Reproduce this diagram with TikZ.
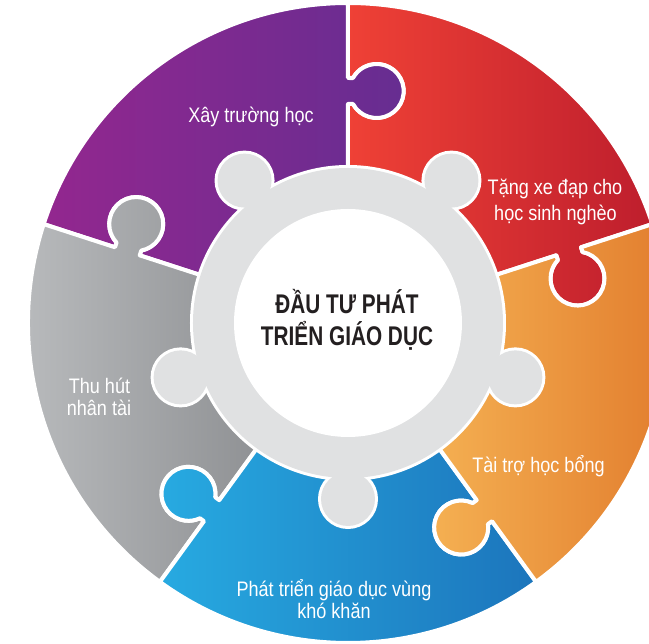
\documentclass[tikz,border=0pt]{standalone}
\usepackage{fontspec}
\newfontfamily\lblfont[FakeStretch=0.86]{Liberation Sans}
\newfontfamily\ttlfont[FakeStretch=0.77]{Liberation Sans}
\definecolor{redL}{HTML}{EF4136}
\definecolor{redR}{HTML}{BE1E2D}
\definecolor{purL}{HTML}{93278F}
\definecolor{purR}{HTML}{662D91}
\definecolor{gryL}{HTML}{BCBEC0}
\definecolor{gryR}{HTML}{808285}
\definecolor{bluL}{HTML}{27AAE1}
\definecolor{bluR}{HTML}{1C75BC}
\definecolor{orgL}{HTML}{FBC25F}
\definecolor{orgR}{HTML}{E0782A}
\definecolor{ringgray}{HTML}{E0E1E2}
\definecolor{ttlcol}{HTML}{231F20}
\begin{document}
\begin{tikzpicture}[x=1pt,y=1pt,
  piece/.style={draw=white, line width=4pt, line join=round},
  lbl/.style={text=white, font=\lblfont\fontsize{21}{24}\selectfont, anchor=base, inner sep=0pt},
  ttl/.style={text=ttlcol, font=\ttlfont\bfseries\fontsize{27}{30}\selectfont, anchor=base, inner sep=0pt}]
\useasboundingbox (-348,-321) rectangle (301,323);
% puzzle pieces
\foreach \a/\b/\cl/\cr in {18/90/redL/redR, 90/162/purL/purR, 162/234/gryL/gryR, 234/306/bluL/bluR, -54/18/orgL/orgR}
  \path[piece, left color=\cl, right color=\cr]
    (0,0) -- ([rotate=\a]219pt,0pt) -- ([rotate=\a]219pt,-5pt)
    arc[start angle=\a+118.75, end angle=\a+421.25, radius=27pt]
    -- ([rotate=\a]245pt,0pt) -- (\a:320pt)
    arc[start angle=\a, end angle=\b, radius=320pt]
    -- ([rotate=\b]245pt,0pt) -- ([rotate=\b]245pt,-5pt)
    arc[start angle=\b+421.25, end angle=\b+118.75, radius=27pt]
    -- ([rotate=\b]219pt,0pt) -- cycle;
% central gear ring
\foreach \k in {126,54,-18,-90,198}
  \draw[white, line width=6pt, fill=white] (\k:176pt) circle[radius=27pt];
\draw[white, line width=6pt] (0,0) circle[radius=155pt];
\fill[ringgray] (0,0) circle[radius=155pt];
\foreach \k in {126,54,-18,-90,198}
  \fill[ringgray] (\k:176pt) circle[radius=27pt];
\fill[white] (0,0) circle[radius=114pt];
% texts
\node[ttl] (t1) at (-1,9) {ĐẦU TƯ PHÁT};
\node[ttl] (t2) at (-1,-22.5) {TRIỂN GIÁO DỤC};
\node[lbl] (l1) at (-97,200) {Xây trường học};
\node[lbl] (l2a) at (207,128) {Tặng xe đạp cho};
\node[lbl] (l2b) at (207.5,102.5) {học sinh nghèo};
\node[lbl] (l3) at (190.5,-150) {Tài trợ học bổng};
\node[lbl] (l4a) at (-14,-274) {Phát triển giáo dục vùng};
\node[lbl] (l4b) at (-14,-295.5) {khó khăn};
\node[lbl] (l5a) at (-248.5,-71) {Thu hút};
\node[lbl] (l5b) at (-249,-93) {nhân tài};
\end{tikzpicture}
\end{document}
